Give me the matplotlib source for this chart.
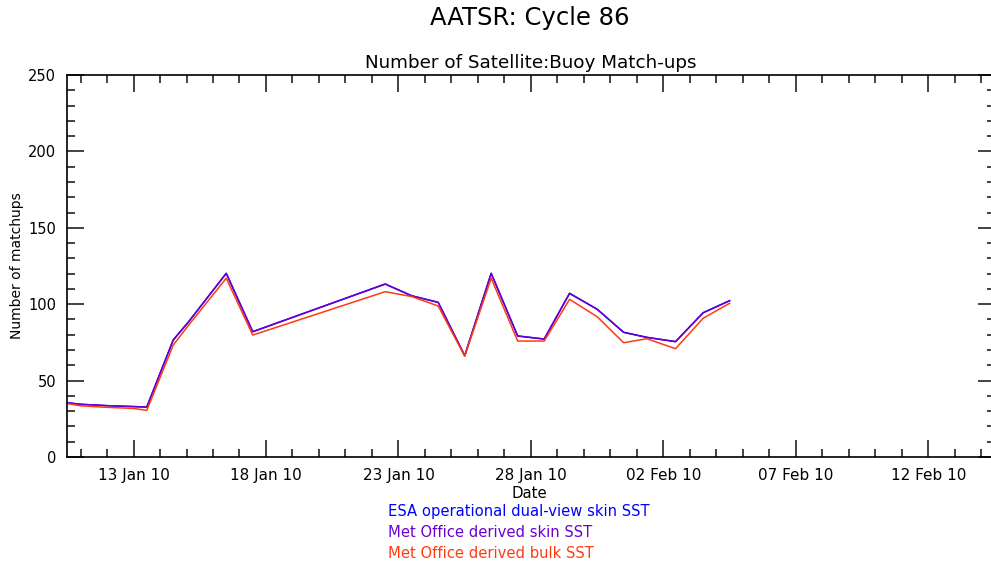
import matplotlib
matplotlib.use("Agg")
import matplotlib.pyplot as plt
import matplotlib.dates as mdates
import pandas as pd

# match-up dates and counts
dates = pd.to_datetime([
    "2010-01-10 12:00", "2010-01-11 00:00", "2010-01-12 00:00", "2010-01-13 00:00",
    "2010-01-13 12:00", "2010-01-14 12:00", "2010-01-15 02:00", "2010-01-16 12:00",
    "2010-01-17 12:00", "2010-01-22 12:00", "2010-01-23 12:00", "2010-01-24 12:00",
    "2010-01-25 12:00", "2010-01-26 12:00", "2010-01-27 12:00", "2010-01-28 12:00",
    "2010-01-29 11:00", "2010-01-30 12:00", "2010-01-31 12:00", "2010-02-01 09:00",
    "2010-02-02 11:00", "2010-02-03 12:00", "2010-02-04 12:00",
])
esa_skin = [35.5, 34.5, 33.6, 33.0, 32.7, 76.6, 88.6, 120.2, 82.0, 113.2, 105.5, 101.2,
            66.3, 120.2, 79.2, 77.2, 107.1, 96.7, 81.6, 78.3, 75.5, 94.4, 102.3]
mo_skin = [35.5, 34.5, 33.6, 33.0, 32.7, 76.6, 88.6, 120.2, 82.0, 113.2, 105.5, 101.2,
           66.3, 120.2, 79.2, 77.2, 107.1, 96.7, 81.6, 78.3, 75.5, 94.4, 102.3]
mo_bulk = [35.0, 33.5, 32.5, 31.8, 30.5, 73.3, 86.4, 117.0, 79.8, 108.2, 105.0, 98.8,
           66.0, 117.0, 75.9, 75.9, 103.2, 91.8, 74.8, 77.4, 70.9, 90.8, 100.6]

series_names = ["ESA operational dual-view skin SST",
                "Met Office derived skin SST",
                "Met Office derived bulk SST"]
series_colors = ["#0000FF", "#6A00D0", "#FF3A10"]

fig = plt.figure(figsize=(9.91, 5.67), dpi=100)
ax = fig.add_axes([0.0679, 0.194, 0.9357, 0.6737])

for vals, col in zip([esa_skin, mo_skin, mo_bulk], series_colors):
    ax.plot(dates, vals, color=col, lw=1.1)

ax.set_xlim(pd.Timestamp("2010-01-10 12:00"), pd.Timestamp("2010-02-14 12:00"))
ax.set_ylim(0, 250)

major = pd.date_range("2010-01-13", periods=7, freq="5D")
minor = pd.date_range("2010-01-11", "2010-02-14", freq="D")
ax.set_xticks(major)
ax.set_xticks(minor, minor=True)
ax.xaxis.set_major_formatter(mdates.DateFormatter("%d %b %y"))
ax.set_yticks(range(0, 251, 50))
ax.set_yticks(range(0, 251, 10), minor=True)

ax.tick_params(which="both", direction="in", top=True, right=True, width=1.2,
               color="#222222")
ax.tick_params(axis="x", labelsize=11)
ax.tick_params(axis="y", labelsize=10.5)
ax.tick_params(which="major", length=12, pad=8)
ax.tick_params(which="minor", length=6)
for s in ax.spines.values():
    s.set_linewidth(1.2)

ax.set_ylabel("Number of matchups", fontsize=10)
ax.yaxis.set_label_coords(-0.0467, 0.5)
ax.set_title("Number of Satellite:Buoy Match-ups", fontsize=13.2, pad=5)
fig.text(0.535, 0.968, "AATSR: Cycle 86", ha="center", va="center", fontsize=17.5)

fig.text(0.534, 0.130, "Date", ha="center", va="center", fontsize=10.7)
for i, (name, col) in enumerate(zip(series_names, series_colors)):
    fig.text(0.392, 0.098 - i * 0.037, name, ha="left", va="center",
             fontsize=10.6, color=col)

fig.savefig("out.png", dpi=100)
